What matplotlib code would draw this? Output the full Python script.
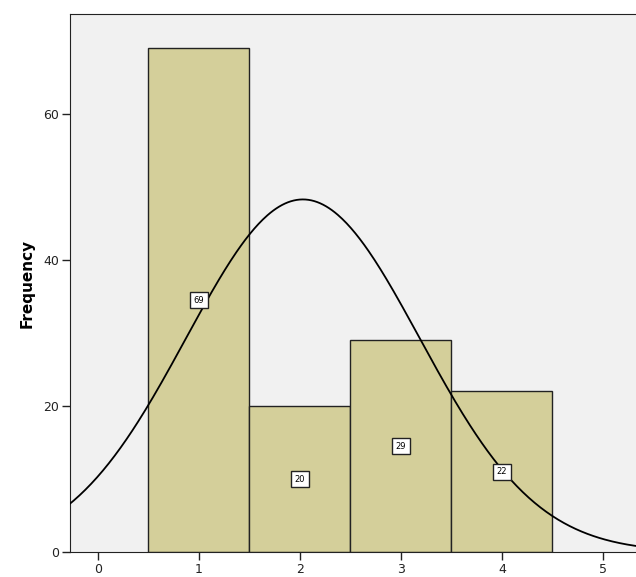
import numpy as np
import matplotlib.pyplot as plt

values = [1, 2, 3, 4]
counts = [69, 20, 29, 22]

n = sum(counts)
mean = sum(v * c for v, c in zip(values, counts)) / n
var = sum(c * (v - mean) ** 2 for v, c in zip(values, counts)) / (n - 1)
sd = np.sqrt(var)

fig = plt.figure(figsize=(6.36, 5.77), dpi=100)
ax = fig.add_axes([70 / 636, 25 / 577, 1.0, 538 / 577])
ax.set_facecolor('#f1f1f1')

ax.bar(values, counts, width=1.0, color='#d4cf9a', edgecolor='#222222', linewidth=1.0, zorder=2)

xs = np.linspace(-0.3, 5.5, 400)
ys = n * np.exp(-(xs - mean) ** 2 / (2 * var)) / (sd * np.sqrt(2 * np.pi))
ax.plot(xs, ys, color='black', linewidth=1.3, zorder=3)

for v, c in zip(values, counts):
    ax.text(v, c / 2, str(c), ha='center', va='center', fontsize=6, zorder=4,
            bbox=dict(boxstyle='square,pad=0.4', facecolor='white', edgecolor='#222222', linewidth=1.0))

ax.set_xlim(-0.277, -0.277 + 636 / 101.0)
ax.set_ylim(0, 538 / 7.3)
ax.set_xticks([0, 1, 2, 3, 4, 5])
ax.set_yticks([0, 20, 40, 60])
ax.tick_params(direction='out', length=6, width=1, labelsize=9, colors='#222222', pad=2)
for s in ['left', 'bottom', 'top', 'right']:
    ax.spines[s].set_color('#222222')
ax.set_ylabel('Frequency', fontsize=11, fontweight='bold', labelpad=6)

fig.savefig('out.png', dpi=100)
